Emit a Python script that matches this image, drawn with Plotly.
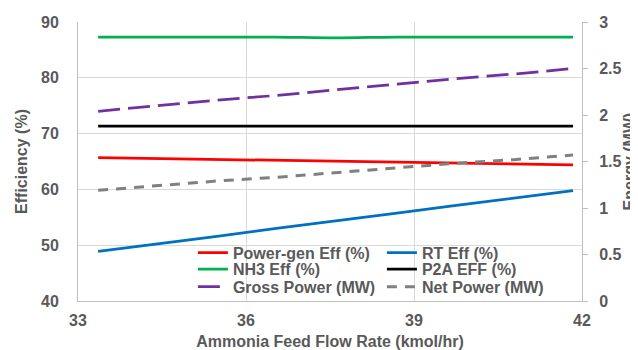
import plotly.graph_objects as go

# ---- data ----
feed_flow = [33.36, 34.42, 35.48, 36.54, 37.60, 38.66, 39.72, 40.78, 41.84]
power_gen_eff = [65.70, 65.54, 65.38, 65.21, 65.05, 64.89, 64.73, 64.56, 64.40]
rt_eff = [48.9, 50.2, 51.6, 53.0, 54.3, 55.7, 57.1, 58.4, 59.8]
nh3_eff = [87.3, 87.3, 87.3, 87.3, 87.15, 87.3, 87.3, 87.3, 87.3]
p2a_eff = [71.35, 71.35, 71.35, 71.35, 71.35, 71.35, 71.35, 71.35, 71.35]
gross_power = [2.04, 2.10, 2.16, 2.21, 2.27, 2.33, 2.39, 2.44, 2.50]
net_power = [1.19, 1.24, 1.29, 1.33, 1.38, 1.43, 1.48, 1.52, 1.57]

x_ticks = [33, 36, 39, 42]
y_ticks = [40, 50, 60, 70, 80, 90]
y2_ticks = [0, 0.5, 1, 1.5, 2, 2.5, 3]
y2_ticktext = ["0", "0.5", "1", "1.5", "2", "2.5", "3"]

FONT = "Arial, Liberation Sans, sans-serif"
TXT = "#595959"
GRID = "#d9d9d9"
AXL = "#bfbfbf"
FS = 16

fig = go.Figure()
fig.add_trace(go.Scatter(x=feed_flow, y=power_gen_eff, name="Power-gen Eff (%)", mode="lines",
                         line=dict(color="#FF0000", width=2.75), legend="legend"))
fig.add_trace(go.Scatter(x=feed_flow, y=rt_eff, name="RT Eff (%)", mode="lines",
                         line=dict(color="#0070C0", width=2.75), legend="legend"))
fig.add_trace(go.Scatter(x=feed_flow, y=nh3_eff, name="NH3 Eff (%)", mode="lines",
                         line=dict(color="#00B050", width=2.75, shape="spline"), legend="legend2"))
fig.add_trace(go.Scatter(x=feed_flow, y=p2a_eff, name="P2A EFF (%)", mode="lines",
                         line=dict(color="#000000", width=2.75), legend="legend2"))
fig.add_trace(go.Scatter(x=feed_flow, y=gross_power, name="Gross Power (MW)", mode="lines",
                         line=dict(color="#7030A0", width=2.75, dash="22px,8px"),
                         yaxis="y2", legend="legend3"))
fig.add_trace(go.Scatter(x=feed_flow, y=net_power, name="Net Power (MW)", mode="lines",
                         line=dict(color="#808080", width=3, dash="10px,8px"),
                         yaxis="y2", legend="legend3"))

leg_common = dict(orientation="h", xanchor="left", yanchor="middle",
                  bgcolor="rgba(0,0,0,0)", borderwidth=0, entrywidth=144,
                  font=dict(family=FONT, size=FS, color=TXT, weight="bold"),
                  itemwidth=30, tracegroupgap=0)

tf = dict(family=FONT, size=FS, color=TXT, weight="bold")

# the page body adds an 8px margin, so the figure is 8px smaller than the window
fig.update_layout(
    width=630, height=342,
    margin=dict(l=70, r=56, t=14, b=49, autoexpand=False),
    paper_bgcolor="white", plot_bgcolor="white",
    font=dict(family=FONT, color=TXT),
    showlegend=True,
    legend=dict(x=0.228, y=0.173, **leg_common),
    legend2=dict(x=0.228, y=0.114, **leg_common),
    legend3=dict(x=0.228, y=0.051, **leg_common),
    xaxis=dict(range=[33, 42], tickvals=x_ticks, showgrid=True, gridcolor=GRID, gridwidth=1,
               showline=True, linecolor=AXL, linewidth=1, zeroline=False, ticks="",
               automargin=False,
               tickfont=tf, ticklabelstandoff=5,
               title=dict(text="Ammonia Feed Flow Rate (kmol/hr)", standoff=8, font=tf)),
    yaxis=dict(range=[40, 90], tickvals=y_ticks, showgrid=True, gridcolor=GRID, gridwidth=1,
               showline=True, linecolor=AXL, linewidth=1, zeroline=False, ticks="",
               automargin=False,
               tickfont=tf, ticklabelstandoff=15,
               title=dict(text="Efficiency (%)", standoff=9, font=tf)),
    yaxis2=dict(range=[0, 3], tickvals=y2_ticks, ticktext=y2_ticktext, overlaying="y", side="right",
                showgrid=False, showline=True, linecolor=AXL, linewidth=1, zeroline=False,
                ticks="outside", ticklen=5, tickcolor=AXL, tickwidth=1,
                automargin=False,
                tickfont=tf, ticklabelstandoff=8,
                title=dict(text="Energy (MW)", standoff=0, font=tf)),
)

fig.write_html("out.html")
